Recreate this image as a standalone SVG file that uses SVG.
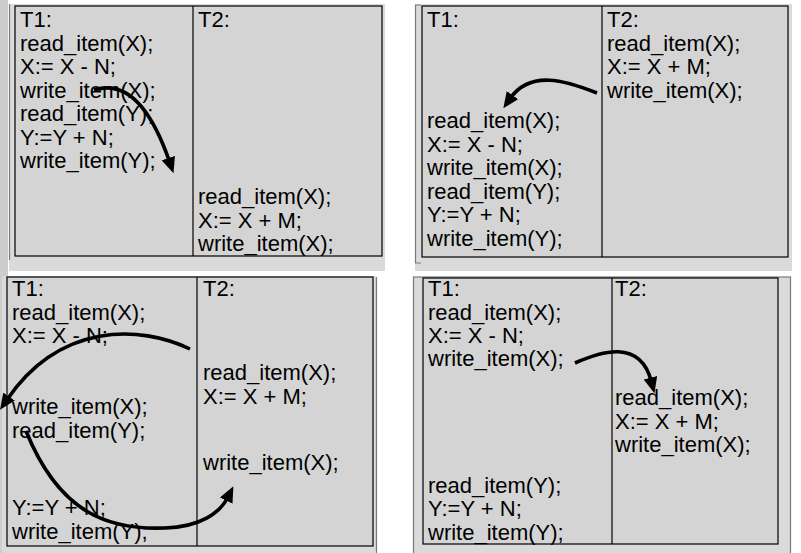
<svg xmlns="http://www.w3.org/2000/svg" width="801" height="553" viewBox="0 0 801 553">
<style>
text{font-family:"Liberation Sans",Arial,sans-serif;font-size:22px;fill:#000}
.panel{fill:#dadada}
.tbl{fill:#d4d4d4;stroke:#000;stroke-width:1.2}
.div{stroke:#000;stroke-width:1.2}
.frame{fill:none;stroke:#7a7a7a;stroke-width:1.2}
.arr{fill:none;stroke:#000;stroke-width:3.6;marker-end:url(#ah)}
</style>
<defs>
<marker id="ah" markerUnits="userSpaceOnUse" viewBox="0 0 16 14" markerWidth="16" markerHeight="14" refX="4" refY="7" orient="auto">
<path d="M0,0 L16,7 L0,14 z" fill="#000"/>
</marker>
<clipPath id="c3"><rect x="7" y="277" width="366" height="269"/></clipPath>
</defs>
<rect x="0" y="0" width="801" height="553" fill="#fff"/>
<rect x="0" y="0" width="8" height="553" fill="#cdcdcd"/>

<g id="schedule-a">
<rect class="panel" x="9" y="4" width="376" height="267"/>
<line class="frame" x1="9.5" y1="4" x2="9.5" y2="260"/>
<rect class="tbl" x="15" y="6" width="367" height="250"/>
<line class="div" x1="193" y1="6" x2="193" y2="256"/>
<g id="a-t1">
<text x="20" y="27">T1:</text>
<text x="20" y="50.5">read_item(X);</text>
<text x="20" y="74">X:= X - N;</text>
<text x="20" y="97.5">write_item(X);</text>
<text x="20" y="121">read_item(Y);</text>
<text x="20" y="144.5">Y:=Y + N;</text>
<text x="20" y="168">write_item(Y);</text>
</g>
<g id="a-t2">
<text x="198" y="27">T2:</text>
<text x="198" y="204">read_item(X);</text>
<text x="198" y="227.5">X:= X + M;</text>
<text x="198" y="251">write_item(X);</text>
</g>
</g>

<g id="schedule-b">
<rect class="panel" x="415" y="4" width="377" height="267"/>
<polyline class="frame" points="421,5 415.5,5 415.5,263 421,263"/>
<rect class="tbl" x="422" y="6" width="366" height="251"/>
<line class="div" x1="602" y1="6" x2="602" y2="257"/>
<g id="b-t1">
<text x="427" y="27">T1:</text>
<text x="427" y="128">read_item(X);</text>
<text x="427" y="151.5">X:= X - N;</text>
<text x="427" y="175">write_item(X);</text>
<text x="427" y="198.5">read_item(Y);</text>
<text x="427" y="222">Y:=Y + N;</text>
<text x="427" y="245.5">write_item(Y);</text>
</g>
<g id="b-t2">
<text x="607" y="27">T2:</text>
<text x="607" y="50.5">read_item(X);</text>
<text x="607" y="74">X:= X + M;</text>
<text x="607" y="97.5">write_item(X);</text>
</g>
</g>

<g id="schedule-c">
<rect class="panel" x="2" y="276" width="374" height="277"/>
<line class="frame" x1="376.5" y1="277" x2="376.5" y2="553"/>
<rect class="tbl" x="7" y="277" width="366" height="269"/>
<line class="div" x1="197" y1="277" x2="197" y2="546"/>
<g id="c-t1" clip-path="url(#c3)">
<text x="12" y="296">T1:</text>
<text x="12" y="319.5">read_item(X);</text>
<text x="12" y="343">X:= X - N;</text>
<text x="12" y="414">write_item(X);</text>
<text x="12" y="438">read_item(Y);</text>
<text x="12" y="515">Y:=Y + N;</text>
<text x="12" y="539">write_item(Y);</text>
</g>
<g id="c-t2">
<text x="203" y="296">T2:</text>
<text x="203" y="380">read_item(X);</text>
<text x="203" y="404">X:= X + M;</text>
<text x="203" y="470">write_item(X);</text>
</g>
</g>

<g id="schedule-d">
<rect class="panel" x="413.5" y="277" width="377" height="277" stroke="#7a7a7a" stroke-width="1.2"/>
<rect class="tbl" x="423" y="278" width="355" height="266"/>
<line class="div" x1="612" y1="278" x2="612" y2="544"/>
<g id="d-t1">
<text x="428" y="296">T1:</text>
<text x="428" y="319.5">read_item(X);</text>
<text x="428" y="342.5">X:= X - N;</text>
<text x="428" y="366">write_item(X);</text>
<text x="428" y="493">read_item(Y);</text>
<text x="428" y="516">Y:=Y + N;</text>
<text x="428" y="539.5">write_item(Y);</text>
</g>
<g id="d-t2">
<text x="615" y="296">T2:</text>
<text x="615" y="405">read_item(X);</text>
<text x="615" y="428.5">X:= X + M;</text>
<text x="615" y="452">write_item(X);</text>
</g>
</g>

<g id="connectors">
<path class="arr" d="M94 90 C125 80 150 105 169.6 161.9"/>
<path class="arr" d="M597 93 C565 80 530 70 510.2 98.4"/>
<path class="arr" d="M190 349 C140 325 60 322 6.8 399.9"/>
<path class="arr" d="M26 431 C60 515 110 530 165 528 C200 527 220 513 228 497"/>
<path class="arr" d="M575 363 C600 352 640 338 651.4 381.6"/>
</g>
</svg>
